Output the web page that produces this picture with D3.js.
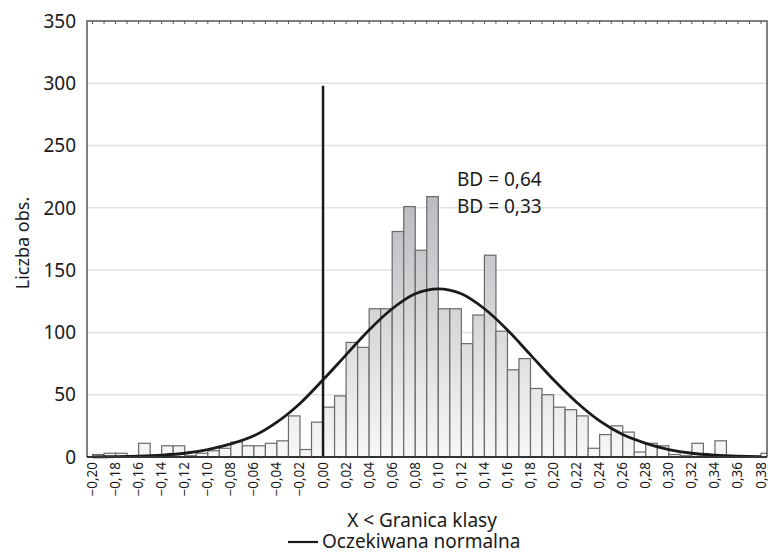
<!DOCTYPE html>
<head>
  <meta charset="utf-8">
  <script src="https://cdn.jsdelivr.net/npm/d3@7"></script>
  <style>
    body { margin: 0; background: white; }
    text { font-family: "Noto Sans", sans-serif; fill: #1a1a1a; }
  </style>
</head>
<body>
  <div id="chartDiv"></div>
  <script>

  // lower edge of each class (width 0.01)
  var binStart = [-0.20, -0.19, -0.18, -0.17, -0.16, -0.15, -0.14, -0.13, -0.12, -0.11,
                  -0.10, -0.09, -0.08, -0.07, -0.06, -0.05, -0.04, -0.03, -0.02, -0.01,
                   0.00,  0.01,  0.02,  0.03,  0.04,  0.05,  0.06,  0.07,  0.08,  0.09,
                   0.10,  0.11,  0.12,  0.13,  0.14,  0.15,  0.16,  0.17,  0.18,  0.19,
                   0.20,  0.21,  0.22,  0.23,  0.24,  0.25,  0.26,  0.27,  0.28,  0.29,
                   0.30,  0.31,  0.32,  0.33,  0.34,  0.35,  0.36,  0.37,  0.38];
  var counts = [2, 3, 3, 1, 11, 1, 9, 9, 1, 3,
                5, 7, 12, 9, 9, 11, 13, 33, 6, 28,
                40, 49, 92, 88, 119, 119, 181, 201, 166, 209,
                119, 119, 91, 114, 162, 101, 70, 79, 55, 50,
                40, 38, 33, 7, 18, 25, 20, 4, 11, 9,
                2, 1, 11, 1, 13, 1, 1, 0, 3];
  var binWidth = 0.01;

  // expected normal curve
  var normalX = [-0.20, -0.18, -0.16, -0.14, -0.12, -0.10, -0.08, -0.06, -0.04, -0.02,
                  0.00,  0.02,  0.04,  0.06,  0.08,  0.10,  0.12,  0.14,  0.16,  0.18,
                  0.20,  0.22,  0.24,  0.26,  0.28,  0.30,  0.32,  0.34,  0.36,  0.38];
  var normalY = [0.1, 0.3, 0.7, 1.5, 3, 6, 10.5, 17, 28, 43,
                 62, 82, 102, 119, 131, 135, 131, 119, 102, 82,
                 62, 44, 29, 18, 11, 6, 3, 1.5, 0.7, 0.3];

  var xTicks = [-0.20, -0.18, -0.16, -0.14, -0.12, -0.10, -0.08, -0.06, -0.04, -0.02,
                 0.00,  0.02,  0.04,  0.06,  0.08,  0.10,  0.12,  0.14,  0.16,  0.18,
                 0.20,  0.22,  0.24,  0.26,  0.28,  0.30,  0.32,  0.34,  0.36,  0.38];
  var yTicks = [0, 50, 100, 150, 200, 250, 300, 350];
  var gridValues = [50, 100, 150, 200, 250, 300];
  var markerValue = 0.00;
  var markerTop = 298;
  var notes = ["BD = 0,64", "BD = 0,33"];

  var width = 768;
  var height = 554;
  var plotLeft = 87, plotRight = 767, plotTop = 21, plotBottom = 457;

  var svg = d3.select("#chartDiv").append("svg")
    .attr("width", width)
    .attr("height", height);

  var x = d3.scaleLinear()
    .domain([-0.2048, 0.3852])
    .range([plotLeft, plotRight]);

  var y = d3.scaleLinear()
    .domain([0, 350])
    .range([plotBottom, plotTop]);

  var defs = svg.append("defs");
  var grad = defs.append("linearGradient")
    .attr("id", "barFill")
    .attr("gradientUnits", "userSpaceOnUse")
    .attr("x1", 0).attr("x2", 0)
    .attr("y1", y(0)).attr("y2", y(215));
  grad.append("stop").attr("offset", "0%").attr("stop-color", "#f7f7f7");
  grad.append("stop").attr("offset", "100%").attr("stop-color", "#b9b9be");

  defs.append("clipPath").attr("id", "plotClip")
    .append("rect")
    .attr("x", plotLeft).attr("y", plotTop - 2)
    .attr("width", plotRight - plotLeft).attr("height", plotBottom - plotTop + 4);

  // grid
  svg.append("g").selectAll("line")
    .data(gridValues)
    .enter().append("line")
    .attr("x1", plotLeft).attr("x2", plotRight)
    .attr("y1", function(d) { return y(d); })
    .attr("y2", function(d) { return y(d); })
    .style("stroke", "#e2e2e2")
    .style("stroke-width", 1.5);

  // bars
  var plot = svg.append("g").attr("clip-path", "url(#plotClip)");
  plot.selectAll("rect.bar")
    .data(binStart)
    .enter().append("rect")
    .attr("class", "bar")
    .attr("x", function(d) { return x(d); })
    .attr("width", function(d) { return x(d + binWidth) - x(d); })
    .attr("y", function(d, i) { return y(counts[i]); })
    .attr("height", function(d, i) { return y(0) - y(counts[i]); })
    .style("fill", "url(#barFill)")
    .style("stroke", "#6a6a6a")
    .style("stroke-width", 1.2);

  // vertical marker at 0
  plot.append("line")
    .attr("x1", x(markerValue)).attr("x2", x(markerValue))
    .attr("y1", y(0)).attr("y2", y(markerTop))
    .style("stroke", "#1a1a1a")
    .style("stroke-width", 2.5);

  // normal curve
  var line = d3.line()
    .x(function(d, i) { return x(normalX[i]); })
    .y(function(d) { return y(d); })
    .curve(d3.curveCatmullRom);

  plot.append("path")
    .attr("d", line(normalY))
    .style("fill", "none")
    .style("stroke", "#1a1a1a")
    .style("stroke-width", 2.8);

  // frame
  svg.append("path")
    .attr("d", "M" + plotLeft + "," + plotBottom + "V" + plotTop + "H" + plotRight + "V" + plotBottom)
    .style("fill", "none")
    .style("stroke", "#555")
    .style("stroke-width", 1.5);

  svg.append("line")
    .attr("x1", plotLeft).attr("x2", plotRight)
    .attr("y1", plotBottom).attr("y2", plotBottom)
    .style("stroke", "#333")
    .style("stroke-width", 2);

  // small ticks along top edge
  svg.append("g").selectAll("line")
    .data(binStart)
    .enter().append("line")
    .attr("x1", function(d) { return x(d); })
    .attr("x2", function(d) { return x(d); })
    .attr("y1", plotTop).attr("y2", plotTop + 3)
    .style("stroke", "#555")
    .style("stroke-width", 1);

  // y tick labels
  svg.append("g").selectAll("text")
    .data(yTicks)
    .enter().append("text")
    .attr("x", 76)
    .attr("y", function(d) { return y(d); })
    .attr("dy", "0.35em")
    .attr("text-anchor", "end")
    .style("font-size", "19px")
    .text(function(d) { return d; });

  // x tick labels
  var fmt = function(d) {
    var s = Math.abs(d).toFixed(2).replace(".", ",");
    return (d < -1e-9 ? "\u2212" : "") + s;
  };
  svg.append("g").selectAll("text")
    .data(xTicks)
    .enter().append("text")
    .attr("transform", function(d) { return "translate(" + (x(d) + 4.5) + "," + (plotBottom + 5) + ") rotate(-90)"; })
    .attr("text-anchor", "end")
    .style("font-size", "13.5px")
    .text(fmt);

  // axis titles
  svg.append("text")
    .attr("transform", "translate(29," + 243 + ") rotate(-90)")
    .attr("text-anchor", "middle")
    .style("font-size", "18px")
    .text("Liczba obs.");

  svg.append("text")
    .attr("x", 422)
    .attr("y", 527)
    .attr("text-anchor", "middle")
    .style("font-size", "19px")
    .text("X < Granica klasy");

  // legend
  svg.append("line")
    .attr("x1", 288).attr("x2", 318)
    .attr("y1", 542).attr("y2", 542)
    .style("stroke", "#1a1a1a")
    .style("stroke-width", 2.2);
  svg.append("text")
    .attr("x", 322)
    .attr("y", 548)
    .style("font-size", "19px")
    .text("Oczekiwana normalna");

  // annotations
  svg.append("g").selectAll("text")
    .data(notes)
    .enter().append("text")
    .attr("x", 457)
    .attr("y", function(d, i) { return 186 + i * 27; })
    .style("font-size", "19px")
    .text(function(d) { return d; });

  </script>
</body>
